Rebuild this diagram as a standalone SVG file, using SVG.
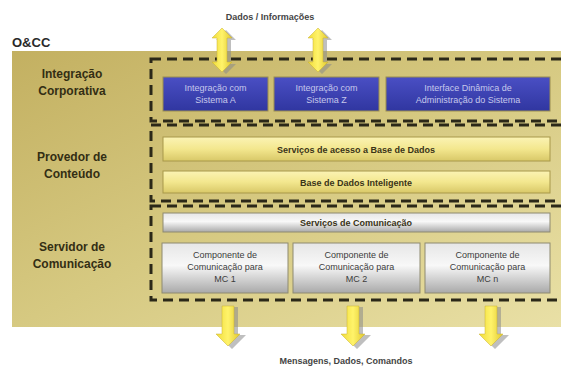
<svg xmlns="http://www.w3.org/2000/svg" width="561" height="369" viewBox="0 0 561 369">
<defs>
<linearGradient id="panel" x1="0" y1="0" x2="1" y2="1">
<stop offset="0" stop-color="#c3b061"/>
<stop offset="0.5" stop-color="#d6c981"/>
<stop offset="1" stop-color="#e9e0a6"/>
</linearGradient>
<linearGradient id="blue" x1="0" y1="0" x2="0" y2="1">
<stop offset="0" stop-color="#4a4fc4"/>
<stop offset="1" stop-color="#3036a0"/>
</linearGradient>
<linearGradient id="ybar" x1="0" y1="0" x2="0" y2="1">
<stop offset="0" stop-color="#fbf3b4"/>
<stop offset="0.5" stop-color="#f3e78e"/>
<stop offset="1" stop-color="#d8c868"/>
</linearGradient>
<linearGradient id="gbar" x1="0" y1="0" x2="0" y2="1">
<stop offset="0" stop-color="#e6e6e6"/>
<stop offset="0.45" stop-color="#f8f8f8"/>
<stop offset="1" stop-color="#a9a9a9"/>
</linearGradient>
<linearGradient id="arrowg" x1="0" y1="0" x2="1" y2="0">
<stop offset="0" stop-color="#f0dc3a"/>
<stop offset="0.5" stop-color="#fff36a"/>
<stop offset="1" stop-color="#e0c830"/>
</linearGradient>
<style>
.lbl{font-family:"Liberation Sans",Arial,sans-serif;font-weight:bold;font-size:12px;fill:#332e14;text-anchor:middle}
.btxt{font-family:"Liberation Sans",Arial,sans-serif;font-size:9px;fill:#c6c8ec;text-anchor:middle}
.ytxt{font-family:"Liberation Sans",Arial,sans-serif;font-weight:bold;font-size:9px;fill:#3a3418;text-anchor:middle}
.gtxt{font-family:"Liberation Sans",Arial,sans-serif;font-size:9px;fill:#3c3c3c;text-anchor:middle}
.cap{font-family:"Liberation Sans",Arial,sans-serif;font-weight:bold;font-size:9px;fill:#444;text-anchor:middle}
.dash{fill:none;stroke:#2b2818;stroke-width:3;stroke-dasharray:10 6}
.blue{fill:url(#blue);stroke:#9a8e50;stroke-width:1}
.ybar{fill:url(#ybar);stroke:#a8984a;stroke-width:1}
.gbar{fill:url(#gbar);stroke:#8e8a70;stroke-width:1}
.arr{fill:url(#arrowg);stroke:#c8b030;stroke-width:0.5}
.shadow{fill:#8a8a8a;opacity:0.55}
</style>
</defs>
<rect width="561" height="369" fill="#ffffff"/>
<text x="12" y="47" font-family="Liberation Sans,Arial,sans-serif" font-weight="bold" font-size="13" fill="#2a2a2a">O&amp;CC</text>
<rect id="panel-bg" x="12" y="51" width="549" height="276" fill="url(#panel)"/>

<g id="layer-integracao">
<text class="lbl" x="72" y="78">Integração</text>
<text class="lbl" x="72" y="95">Corporativa</text>
<rect class="dash" x="151" y="59" width="420" height="62"/>
<g id="int-a"><rect class="blue" x="163" y="77" width="105" height="34"/><text class="btxt" x="215.5" y="91">Integração com</text><text class="btxt" x="215.5" y="103">Sistema A</text></g>
<g id="int-z"><rect class="blue" x="274" y="77" width="105" height="34"/><text class="btxt" x="326.5" y="91">Integração com</text><text class="btxt" x="326.5" y="103">Sistema Z</text></g>
<g id="int-adm"><rect class="blue" x="386" y="77" width="164" height="34"/><text class="btxt" x="468" y="91">Interface Dinâmica de</text><text class="btxt" x="468" y="103">Administração do Sistema</text></g>
</g>

<g id="layer-provedor">
<text class="lbl" x="72" y="161">Provedor de</text>
<text class="lbl" x="72" y="178">Conteúdo</text>
<rect class="dash" x="151" y="125" width="420" height="76"/>
<g id="srv-bd"><rect class="ybar" x="163" y="137" width="387" height="24"/><text class="ytxt" x="356" y="152.5">Serviços de acesso a Base de Dados</text></g>
<g id="bd-int"><rect class="ybar" x="163" y="171" width="387" height="22"/><text class="ytxt" x="356" y="185.5">Base de Dados Inteligente</text></g>
</g>

<g id="layer-servidor">
<text class="lbl" x="72" y="251">Servidor de</text>
<text class="lbl" x="72" y="268">Comunicação</text>
<rect class="dash" x="151" y="206" width="420" height="94"/>
<g id="srv-com"><rect class="gbar" x="163" y="213" width="387" height="19"/><text class="ytxt" x="356" y="225.5">Serviços de Comunicação</text></g>
<g id="mc1"><rect class="gbar" x="162" y="243" width="126" height="50"/><text class="gtxt" x="225" y="258">Componente de</text><text class="gtxt" x="225" y="270">Comunicação para</text><text class="gtxt" x="225" y="282">MC 1</text></g>
<g id="mc2"><rect class="gbar" x="293" y="243" width="127" height="50"/><text class="gtxt" x="356.5" y="258">Componente de</text><text class="gtxt" x="356.5" y="270">Comunicação para</text><text class="gtxt" x="356.5" y="282">MC 2</text></g>
<g id="mcn"><rect class="gbar" x="425" y="243" width="125" height="50"/><text class="gtxt" x="487.5" y="258">Componente de</text><text class="gtxt" x="487.5" y="270">Comunicação para</text><text class="gtxt" x="487.5" y="282">MC n</text></g>
</g>

<g id="connectors">
<path class="shadow" d="M222,28 l10,10 h-5 v24 h5 l-10,10 l-10,-10 h5 v-24 h-5 z" transform="translate(4,2)"/>
<path class="arr" d="M222,28 l10,10 h-5 v24 h5 l-10,10 l-10,-10 h5 v-24 h-5 z"/>
<path class="shadow" d="M318,28 l10,10 h-5 v24 h5 l-10,10 l-10,-10 h5 v-24 h-5 z" transform="translate(4,2)"/>
<path class="arr" d="M318,28 l10,10 h-5 v24 h5 l-10,10 l-10,-10 h5 v-24 h-5 z"/>
<path class="shadow" d="M222,306 h12 v28 h8 l-14,14 l-14,-14 h8 z" transform="translate(4,1)"/>
<path class="arr" d="M222,306 h12 v28 h6 l-12,12 l-12,-12 h6 z"/>
<path class="shadow" d="M347,306 h12 v28 h8 l-14,14 l-14,-14 h8 z" transform="translate(4,1)"/>
<path class="arr" d="M347,306 h12 v28 h6 l-12,12 l-12,-12 h6 z"/>
<path class="shadow" d="M485,306 h12 v28 h8 l-14,14 l-14,-14 h8 z" transform="translate(4,1)"/>
<path class="arr" d="M485,306 h12 v28 h6 l-12,12 l-12,-12 h6 z"/>
</g>

<text class="cap" x="270" y="20">Dados / Informações</text>
<text class="cap" x="346" y="364">Mensagens, Dados, Comandos</text>
</svg>
